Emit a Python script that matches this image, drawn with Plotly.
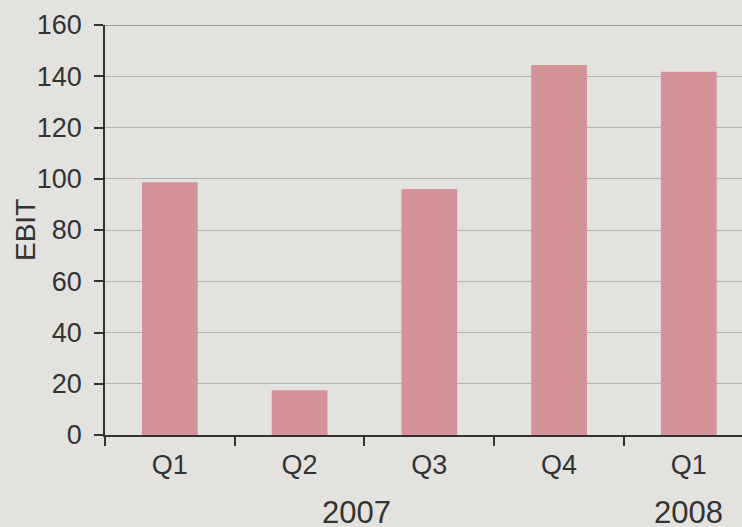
import plotly.graph_objects as go

categories = ["2007 Q1", "2007 Q2", "2007 Q3", "2007 Q4", "2008 Q1"]
quarter_labels = ["Q1", "Q2", "Q3", "Q4", "Q1"]
ebit = [98.6, 17.5, 96.0, 144.4, 141.8]
year_labels = ["2007", "2008"]
year_positions = [1.435, 4]
y_ticks = [0, 20, 40, 60, 80, 100, 120, 140, 160]

BG = "#e3e2df"
BAR = "#d49398"
TXT = "#333333"
FONT = "Liberation Sans, Arial, sans-serif"

fig = go.Figure()
fig.add_trace(go.Bar(
    x=categories, y=ebit, width=0.43,
    marker=dict(color=BAR, line=dict(width=0)),
    showlegend=False,
))

fig.update_layout(
    width=742, height=527,
    paper_bgcolor=BG, plot_bgcolor=BG,
    margin=dict(l=105, r=0, t=25, b=92),
    font=dict(family=FONT, color=TXT, size=27),
    bargap=0.57,
)

fig.update_xaxes(
    type="category",
    range=[-0.5, 4.41],
    tickmode="array", tickvals=categories, ticktext=quarter_labels,
    tickson="boundaries",
    ticks="outside", ticklen=9, tickwidth=1.5, tickcolor="#333333",
    showline=True, linecolor="#333333", linewidth=1.5,
    showgrid=False,
    ticklabelstandoff=5,
    tickfont=dict(size=27, color=TXT),
)

fig.update_yaxes(
    range=[0, 160],
    tickmode="array", tickvals=y_ticks,
    ticks="outside", ticklen=9, tickwidth=1.5, tickcolor="#333333",
    showline=True, linecolor="#333333", linewidth=1.5,
    showgrid=True, gridcolor="#b3b3b3", gridwidth=1.3,
    zeroline=False,
    ticklabelstandoff=7,
    tickfont=dict(size=27, color=TXT),
)

# y-axis title
fig.add_annotation(
    x=0, y=0.5, xref="paper", yref="paper",
    text="EBIT", textangle=-90, showarrow=False,
    xanchor="center", yanchor="middle", xshift=-80,
    font=dict(size=28, color=TXT),
)

# darker top border line at max
fig.add_shape(type="line", xref="paper", yref="y", x0=0, x1=1, y0=160, y1=160,
              line=dict(color="#8a8a8a", width=1.5), layer="below")

for label, pos in zip(year_labels, year_positions):
    fig.add_annotation(
        x=pos, y=0, xref="x", yref="paper",
        text=label, showarrow=False,
        yanchor="middle", yshift=-77,
        font=dict(size=31, color=TXT),
    )

fig.write_html(
    "out.html",
    config={"displayModeBar": False},
    post_script="document.body.style.margin='0';document.body.style.overflow='hidden';",
)
